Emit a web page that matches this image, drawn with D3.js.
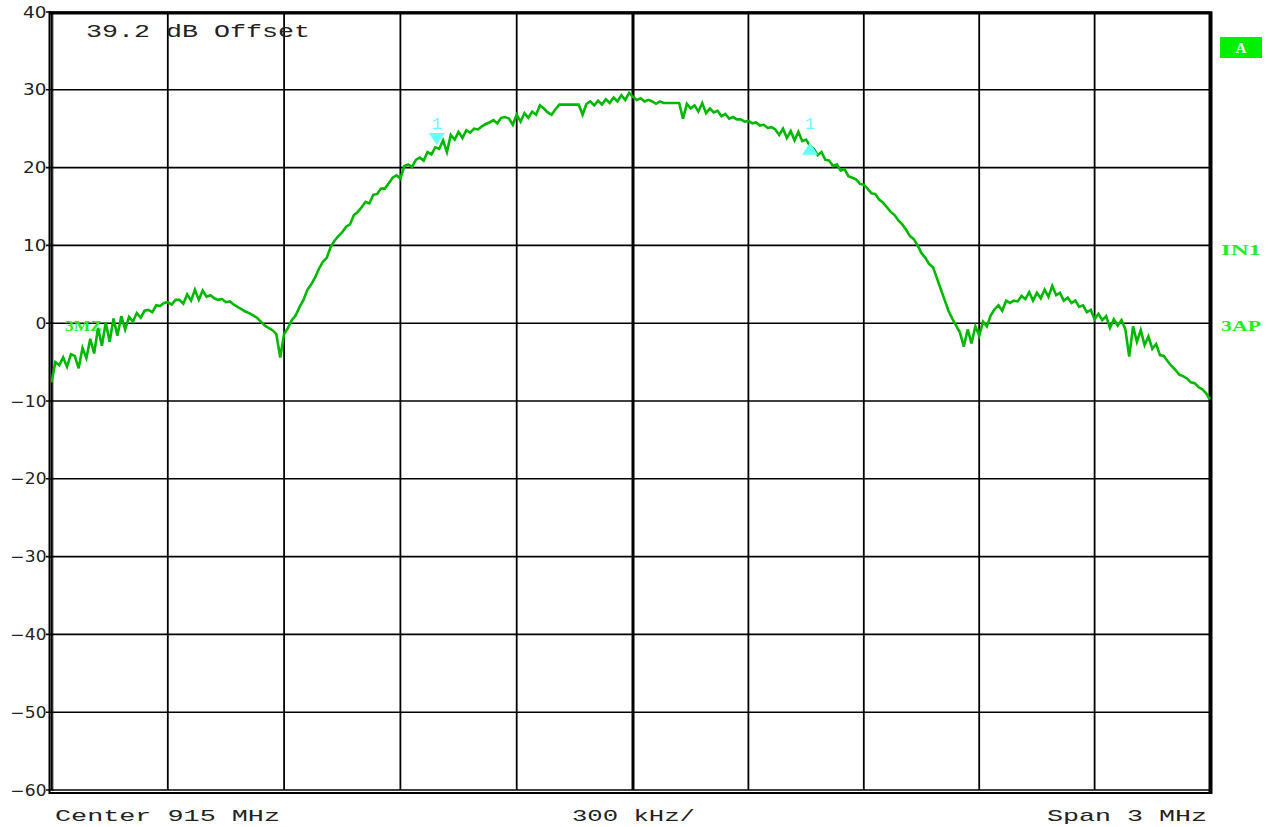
<!DOCTYPE html>
<html>
<head>
<meta charset="utf-8">
<script src="https://cdn.jsdelivr.net/npm/d3@7"></script>
<style>
  html, body { margin: 0; padding: 0; background: #fff; }
  svg { display: block; }
</style>
</head>
<body>
<svg id="chart" width="1270" height="827"></svg>
<script>
// ---- data ----
const yTicks = [40, 30, 20, 10, 0, -10, -20, -30, -40, -50, -60];
const yTickLabels = ["40", "30", "20", "10", "0", "\u221210", "\u221220", "\u221230", "\u221240", "\u221250", "\u221260"];
const xTicksKHz = [-1500, -1200, -900, -600, -300, 0, 300, 600, 900, 1200, 1500];
const sweepStartKHz = -1500, sweepStepKHz = 10;
const traceLevels = [
  -7.6, -5.0, -5.4, -4.4, -5.6, -4.0, -4.2, -5.8, -3.2, -4.5,
  -2.0, -3.9, -0.6, -2.9, 0.1, -2.4, 0.6, -1.6, 0.9, -0.8,
  0.8, 0.2, 1.3, 0.7, 1.6, 1.7, 1.4, 2.3, 2.2, 2.6,
  2.7, 2.4, 3.0, 3.0, 2.5, 3.7, 2.9, 4.3, 3.0, 4.2,
  3.4, 3.6, 3.2, 3.0, 3.1, 2.7, 2.8, 2.4, 2.1, 1.8,
  1.5, 1.3, 1.0, 0.7, 0.2, -0.3, -0.6, -0.9, -1.4, -4.4,
  -1.4, -0.6, 0.4, 1.0, 2.1, 3.0, 4.3, 5.0, 5.9, 7.0,
  7.9, 8.4, 9.8, 10.6, 11.2, 11.7, 12.4, 12.7, 13.9, 14.3,
  14.9, 15.6, 15.4, 16.5, 16.6, 17.3, 17.3, 18.0, 18.7, 19.0,
  18.6, 20.2, 20.4, 20.1, 21.0, 21.3, 20.9, 22.0, 21.7, 22.6,
  22.4, 23.5, 22.0, 24.2, 23.6, 24.6, 23.8, 24.8, 24.5, 25.0,
  24.9, 25.3, 25.6, 25.8, 26.1, 25.7, 26.4, 26.5, 26.3, 25.5,
  26.8, 25.9, 27.0, 26.4, 27.2, 26.8, 28.0, 27.6, 27.1, 26.8,
  27.5, 28.1, 28.1, 28.1, 28.1, 28.1, 28.1, 26.8, 28.2, 28.5,
  28.0, 28.6, 28.1, 28.8, 28.3, 29.0, 28.5, 29.3, 28.7, 29.6,
  29.1, 28.7, 28.9, 28.5, 28.7, 28.5, 28.2, 28.5, 28.3, 28.3,
  28.3, 28.3, 28.3, 26.3, 28.2, 27.6, 28.0, 27.2, 28.3, 27.0,
  27.6, 27.1, 27.3, 26.6, 26.9, 26.3, 26.5, 26.2, 26.2, 25.9,
  26.0, 25.7, 25.8, 25.4, 25.5, 25.1, 25.2, 24.9, 24.2, 25.0,
  23.8, 24.7, 23.5, 24.6, 23.4, 23.6, 22.8, 22.4, 21.6, 22.0,
  21.0, 20.9, 20.2, 20.4, 19.6, 19.8, 18.9, 18.7, 18.5, 17.9,
  17.8, 17.3, 16.7, 16.6, 15.9, 15.5, 14.9, 14.3, 13.9, 13.2,
  12.7, 12.0, 11.2, 10.8, 10.0, 9.0, 8.4, 7.6, 7.2, 5.8,
  4.4, 3.0, 1.6, 0.6, -0.3, -1.2, -3.0, -0.8, -2.6, -0.4,
  -1.6, 0.2, -0.4, 1.0, 1.8, 2.3, 1.6, 2.9, 2.6, 2.9,
  2.8, 3.5, 3.1, 4.0, 2.9, 3.9, 3.2, 4.3, 3.4, 4.8,
  3.6, 3.9, 2.9, 3.3, 2.6, 2.9, 2.1, 2.3, 1.4, 1.7,
  0.5, 1.2, 0.4, 0.9, -0.6, 0.5, -0.3, 0.4, -0.8, -4.3,
  -0.4, -2.4, -0.9, -2.8, -1.7, -3.3, -2.7, -4.1, -4.2, -4.9,
  -5.5, -6.0, -6.6, -6.8, -7.1, -7.6, -7.7, -8.2, -8.5, -9.0,
  -9.8
];
const markerFreqsKHz = [-506, 460];
const markerLevels = [22.9, 23.2];
const markerDirs = ["down", "up"];
const markerNames = ["1", "1"];
const offsetLabel = "39.2 dB Offset";
const bottomLabels = ["Center 915 MHz", "300 kHz/", "Span 3 MHz"];
const sideLabels = ["IN1", "3AP"];
const traceLabel = "A";
const lineLabel = "3MZ";

// ---- scales ----
const svg = d3.select("#chart");
const x = d3.scaleLinear().domain([-1500, 0, 1500]).range([51.5, 633, 1210]);
const y = d3.scaleLinear().domain([-60, 40]).range([790, 12]);
const freqs = traceLevels.map((_, i) => sweepStartKHz + i * sweepStepKHz);

const mono = "'Liberation Mono', 'DejaVu Sans Mono', monospace";

// ---- grid ----
const grid = svg.append("g");
grid.selectAll("line.h").data(yTicks).enter().append("line")
  .attr("x1", 46).attr("x2", 1210)
  .attr("y1", d => y(d)).attr("y2", d => y(d))
  .attr("stroke", "#000").attr("stroke-width", 1.6);
grid.selectAll("line.v").data(xTicksKHz).enter().append("line")
  .attr("x1", d => x(d)).attr("x2", d => x(d))
  .attr("y1", 12).attr("y2", 790)
  .attr("stroke", "#000").attr("stroke-width", d => d === 0 ? 3 : 1.8);

// frame
svg.append("line").attr("x1", 49.5).attr("x2", 49.5).attr("y1", 11).attr("y2", 794).attr("stroke", "#000").attr("stroke-width", 2);
svg.append("line").attr("x1", 52.8).attr("x2", 52.8).attr("y1", 12).attr("y2", 791).attr("stroke", "#000").attr("stroke-width", 1);
svg.append("line").attr("x1", 49).attr("x2", 1212).attr("y1", 793).attr("y2", 793).attr("stroke", "#000").attr("stroke-width", 2);
svg.append("line").attr("x1", 49).attr("x2", 1212).attr("y1", 13).attr("y2", 13).attr("stroke", "#000").attr("stroke-width", 3);
svg.append("line").attr("x1", 1210.5).attr("x2", 1210.5).attr("y1", 11.5).attr("y2", 794).attr("stroke", "#000").attr("stroke-width", 4);

// y tick labels
svg.selectAll("text.yt").data(yTicks).enter().append("text")
  .attr("x", (d, i) => 48 - 12.5 * yTickLabels[i].length)
  .attr("y", d => y(d) + 5.5)
  .attr("textLength", (d, i) => 12.5 * yTickLabels[i].length - 1.5)
  .attr("lengthAdjust", "spacingAndGlyphs")
  .attr("font-family", "'DejaVu Sans', sans-serif")
  .attr("font-size", 15.5)
  .attr("fill", "#222")
  .text((d, i) => yTickLabels[i]);

// top-left offset text
svg.append("text").attr("x", 86).attr("y", 37)
  .attr("textLength", 224).attr("lengthAdjust", "spacingAndGlyphs")
  .attr("font-family", mono).attr("font-size", 18).attr("fill", "#222")
  .text(offsetLabel);

// bottom labels
const bottomX = [55, 572, 1047];
const bottomW = [225, 123, 160];
svg.selectAll("text.bl").data(bottomLabels).enter().append("text")
  .attr("x", (d, i) => bottomX[i]).attr("y", 821)
  .attr("textLength", (d, i) => bottomW[i]).attr("lengthAdjust", "spacingAndGlyphs")
  .attr("font-family", mono).attr("font-size", 17).attr("fill", "#222")
  .text(d => d);

// side labels
svg.append("rect").attr("x", 1220).attr("y", 37).attr("width", 42).attr("height", 21).attr("fill", "#00f000");
svg.append("text").attr("x", 1241).attr("y", 53).attr("text-anchor", "middle")
  .attr("font-family", "'Liberation Serif', serif").attr("font-weight", "bold")
  .attr("font-size", 15).attr("fill", "#fff").text(traceLabel);
const sideY = [255, 331];
svg.selectAll("text.sl").data(sideLabels).enter().append("text")
  .attr("x", 1221).attr("y", (d, i) => sideY[i])
  .attr("textLength", 40).attr("lengthAdjust", "spacingAndGlyphs")
  .attr("font-family", "'Liberation Serif', serif").attr("font-weight", "bold")
  .attr("font-size", 15).attr("fill", "#22ee22").text(d => d);

// display line label inside plot
svg.append("text").attr("x", 65).attr("y", 331)
  .attr("textLength", 37).attr("lengthAdjust", "spacingAndGlyphs")
  .attr("font-family", "'Liberation Serif', serif").attr("font-weight", "bold")
  .attr("font-size", 15).attr("fill", "#22ee22").text(lineLabel);

// ---- trace ----
svg.append("clipPath").attr("id", "clip").append("rect")
  .attr("x", 51).attr("y", 12).attr("width", 1160).attr("height", 780);
const line = d3.line().x((d, i) => x(freqs[i])).y(d => y(d));
svg.append("path").datum(traceLevels)
  .attr("clip-path", "url(#clip)")
  .attr("fill", "none").attr("stroke", "#00b800").attr("stroke-width", 2.6)
  .attr("stroke-linejoin", "miter").attr("d", line);

// ---- markers ----
const mk = svg.append("g");
markerFreqsKHz.forEach((f, i) => {
  const mx = x(f), my = y(markerLevels[i]);
  const pts = markerDirs[i] === "down"
    ? [[mx - 8, my - 12], [mx + 8, my - 12], [mx, my]]
    : [[mx, my], [mx - 8, my + 12], [mx + 8, my + 12]];
  mk.append("polygon").attr("points", pts.map(p => p.join(",")).join(" "))
    .attr("fill", "#66ffff");
  mk.append("text").attr("x", mx).attr("y", 129).attr("text-anchor", "middle")
    .attr("font-family", mono).attr("font-size", 17).attr("fill", "#66ffff")
    .text(markerNames[i]);
});
</script>
</body>
</html>
